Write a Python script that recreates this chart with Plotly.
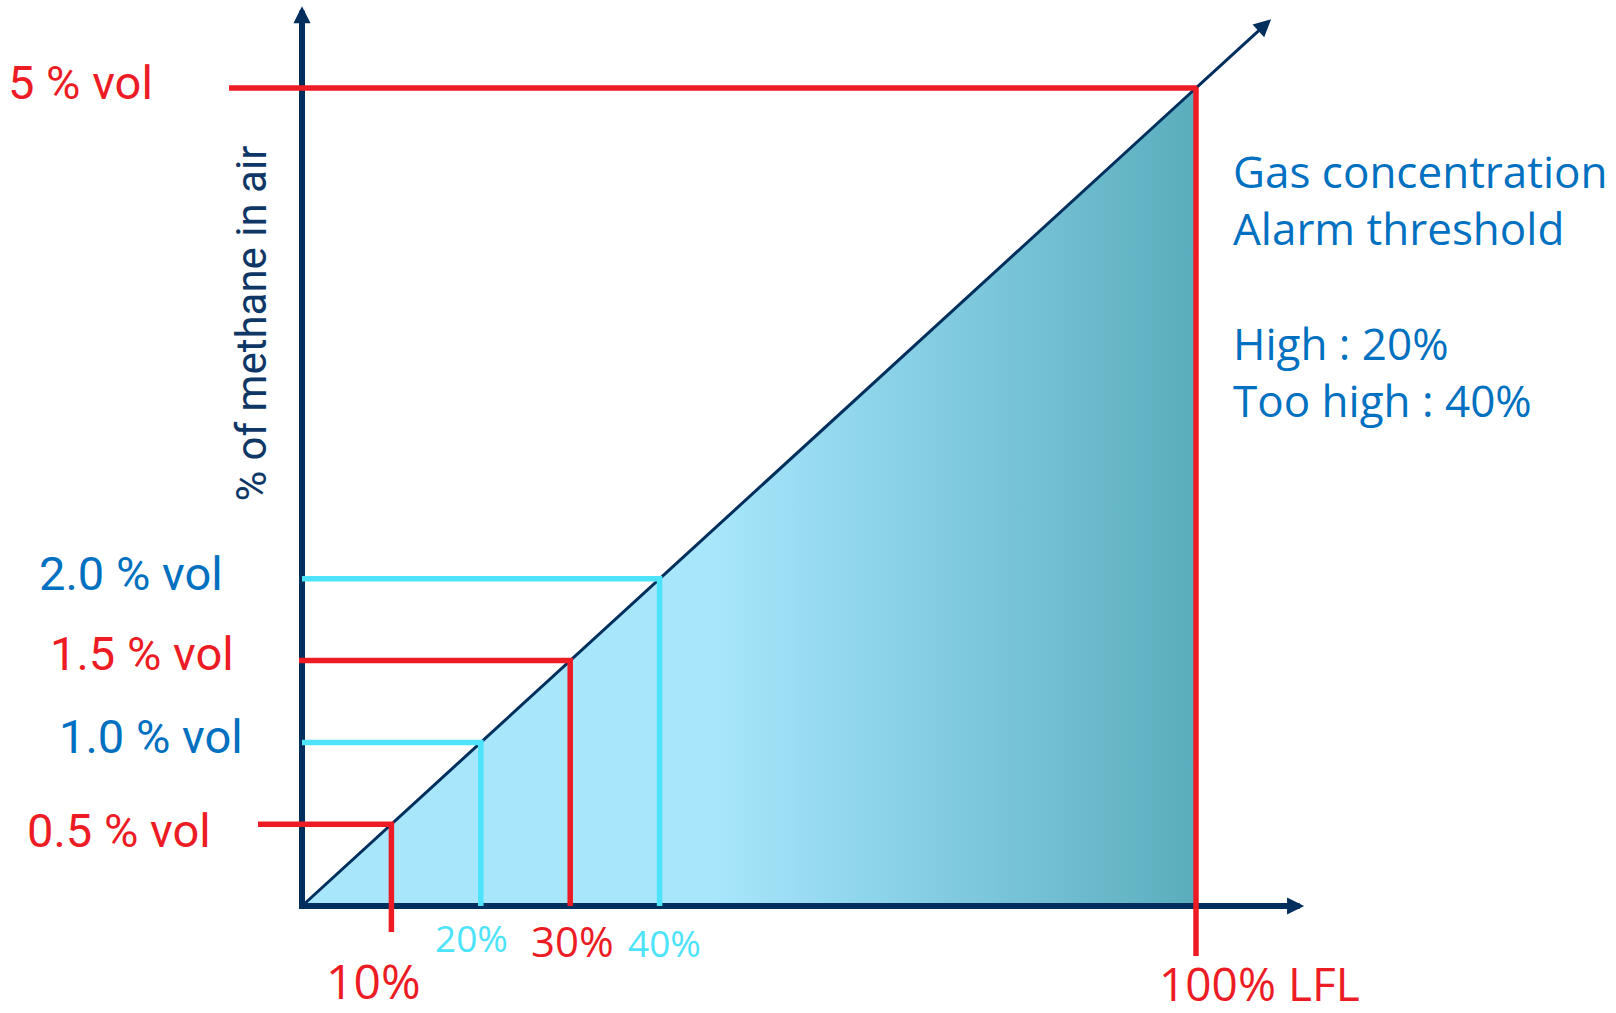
import plotly.graph_objects as go

# Alarm thresholds: % of the lower flammable limit and matching methane % vol
lfl_pct = [10, 20, 30, 40, 100]
vol_pct = [0.5, 1.0, 1.5, 2.0, 5.0]
vol_labels = ["0.5 % vol", "1.0 % vol", "1.5 % vol", "2.0 % vol", "5 % vol"]
lfl_labels = ["10%", "20%", "30%", "40%", "100% LFL"]
note_lines = ["Gas concentration", "Alarm threshold", "", "High : 20%", "Too high : 40%"]
y_title = "% of methane in air"

# ---- styling -------------------------------------------------------------
RED = "#ED1C24"
CYAN = "#4DE3FB"
NAVY = "#002E5D"
BLUE = "#0070C0"
line_colors = [RED, CYAN, RED, CYAN, RED]
left_label_colors = [RED, BLUE, RED, BLUE, RED]
bottom_label_colors = [RED, CYAN, RED, CYAN, RED]

W, H = 1616, 1013
X0_PX, Y0_PX = 302, 906          # where the two axes cross on the page
PX_PER_LFL = 8.94                # horizontal scale (px per % LFL)
PX_PER_VOL = 163.6               # vertical scale (px per % vol)

x_range = [-X0_PX / PX_PER_LFL, (W - X0_PX) / PX_PER_LFL]
y_range = [-(H - Y0_PX) / PX_PER_VOL, Y0_PX / PX_PER_VOL]

# stubs that overshoot the axes (px) for each threshold line
stub_left_px = [44, 0, 3, 0, 73]
stub_down_px = [26, 0, 0, 0, 50]

# label offsets (px)
left_xshift = [-89, -57, -66, -77, -147]
left_yshift = [-6, 6, 7, 5, 6]
bottom_xshift = [-18, -9, 2, 5, 63]
bottom_yshift = [-74, -31, -34, -36, -77]
bottom_size = [48, 37, 42, 37, 46]

Y_TIP = 5.50        # end of the vertical axis arrow (% vol)
X_TIP = 112.1       # end of the horizontal axis arrow (% LFL)
DIAG_TIP = 108.4    # end of the diagonal arrow (% LFL)
HEAD_LFL = 2.0      # length of the arrow heads along each axis
HEAD_VOL = 0.11

lfl_max, vol_max = lfl_pct[-1], vol_pct[-1]
slope = vol_max / lfl_max

fig = go.Figure()

# shaded area under the concentration line, light blue fading to teal
fig.add_trace(go.Scatter(
    x=[0, lfl_max, lfl_max, 0], y=[0, vol_max, 0, 0],
    mode="lines", line=dict(width=0), fill="toself",
    fillgradient=dict(
        type="horizontal", start=0, stop=lfl_max,
        colorscale=[[0, "#A8E6FC"], [0.46, "#A8E6FC"],
                    [0.67, "#89D1E6"], [1, "#5AADBC"]],
    ),
    hoverinfo="skip", showlegend=False,
))

# diagonal: % vol grows linearly with % LFL
fig.add_trace(go.Scatter(
    x=[0, lfl_max], y=[0, vol_max], mode="lines",
    line=dict(color=NAVY, width=3), hoverinfo="skip", showlegend=False,
))

# axes (drawn as one polyline so the corner is closed)
fig.add_trace(go.Scatter(
    x=[0, 0, X_TIP - HEAD_LFL], y=[Y_TIP - HEAD_VOL, 0, 0], mode="lines",
    line=dict(color=NAVY, width=6), hoverinfo="skip", showlegend=False,
))

# threshold guide lines
for lfl, vol, col, sl, sd in zip(lfl_pct, vol_pct, line_colors, stub_left_px, stub_down_px):
    fig.add_trace(go.Scatter(
        x=[-sl / PX_PER_LFL, lfl, lfl],
        y=[vol, vol, -sd / PX_PER_VOL],
        mode="lines", line=dict(color=col, width=5.5),
        hoverinfo="skip", showlegend=False,
    ))

annotations = []

# arrow heads
annotations.append(dict(x=0, y=Y_TIP, ax=0, ay=Y_TIP - 3 * HEAD_VOL,
                        xref="x", yref="y", axref="x", ayref="y", text="",
                        showarrow=True, arrowhead=2, arrowsize=0.57,
                        arrowwidth=6, arrowcolor=NAVY))
annotations.append(dict(x=X_TIP, y=0, ax=X_TIP - 3 * HEAD_LFL, ay=0,
                        xref="x", yref="y", axref="x", ayref="y", text="",
                        showarrow=True, arrowhead=2, arrowsize=0.57,
                        arrowwidth=6, arrowcolor=NAVY))
annotations.append(dict(x=DIAG_TIP, y=DIAG_TIP * slope, ax=lfl_max, ay=vol_max,
                        xref="x", yref="y", axref="x", ayref="y", text="",
                        showarrow=True, arrowhead=2, arrowsize=1.15,
                        arrowwidth=3, arrowcolor=NAVY))

# % vol labels left of the vertical axis
for vol, txt, col, xs, ys in zip(vol_pct, vol_labels, left_label_colors, left_xshift, left_yshift):
    annotations.append(dict(x=0, y=vol, xref="x", yref="y", text=txt,
                            showarrow=False, xanchor="right", yanchor="middle",
                            xshift=xs, yshift=ys,
                            font=dict(family="Roboto", size=47, color=col)))

# % LFL labels under the horizontal axis
for lfl, txt, col, xs, ys, fs in zip(lfl_pct, lfl_labels, bottom_label_colors,
                                     bottom_xshift, bottom_yshift, bottom_size):
    annotations.append(dict(x=lfl, y=0, xref="x", yref="y", text=txt,
                            showarrow=False, xanchor="center", yanchor="middle",
                            xshift=xs, yshift=ys,
                            font=dict(family="Open Sans", size=fs, color=col)))

# vertical axis title
annotations.append(dict(x=0, y=3.56, xref="x", yref="y", text=y_title,
                        showarrow=False, textangle=-90, xshift=-50,
                        xanchor="center", yanchor="middle",
                        font=dict(family="Roboto", size=42, color="#0F3766")))

# alarm note on the right
annotations.append(dict(x=lfl_max, y=vol_max, xref="x", yref="y",
                        text="<br>".join(l if l else "\u00a0" for l in note_lines),
                        showarrow=False, xanchor="left", yanchor="top", align="left",
                        xshift=35, yshift=-51,
                        font=dict(family="Open Sans", size=44, color=BLUE)))

fig.update_layout(
    width=W, height=H, autosize=False,
    margin=dict(l=0, r=0, t=0, b=0),
    paper_bgcolor="white", plot_bgcolor="white",
    xaxis=dict(range=x_range, visible=False, fixedrange=True),
    yaxis=dict(range=y_range, visible=False, fixedrange=True),
    annotations=annotations,
    showlegend=False,
)

fig.write_html("out.html")
